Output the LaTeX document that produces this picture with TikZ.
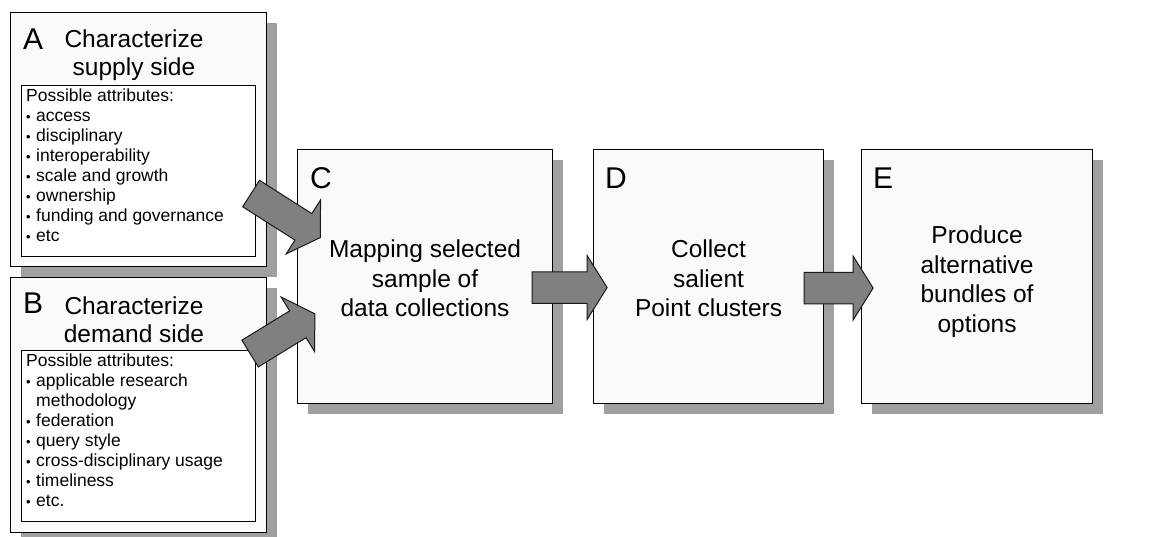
\documentclass[tikz,border=0pt]{standalone}
\usepackage{fontspec}
\setmainfont{Liberation Sans}
\usetikzlibrary{calc,shadows}

\definecolor{boxfill}{HTML}{FAFAFA}
\definecolor{shadowgray}{HTML}{A0A0A0}
\definecolor{arrowgray}{HTML}{808080}
\definecolor{edgedark}{HTML}{1A1A1A}

\tikzset{
  panel/.style={draw=black, line width=1.1pt, fill=boxfill, inner sep=0pt,
    anchor=north west,
    drop shadow={shadow xshift=10pt, shadow yshift=-10pt, fill=shadowgray, opacity=1}},
  listbox/.style={draw=black, line width=1.1pt, fill=white, inner sep=0pt, anchor=north west},
  letter/.style={font=\fontsize{30}{34}\selectfont, anchor=base west, inner sep=0pt},
  heading/.style={font=\fontsize{24.5}{29.5}\selectfont, align=center, inner sep=0pt},
  subheading/.style={font=\fontsize{24.5}{28}\selectfont, align=center, inner sep=0pt},
  listtext/.style={font=\fontsize{17.5}{20}\selectfont, align=left, anchor=north west, inner sep=0pt},
  blockarrow/.style={draw=edgedark, line width=1pt, fill=arrowgray, line join=miter},
}

% list bullet and the matching hanging indent
\newcommand\bul{\makebox[10pt][l]{\raisebox{0.5pt}{\fontsize{13}{13}\selectfont •}}}
\newcommand\hang{\hspace*{10pt}}

% block arrow: #1 middle of the tail, #2 direction (degrees), #3 length
\newcommand\blockarrowdraw[3]{%
  \draw[blockarrow, shift={#1}, rotate=#2]
    (0,-15.7) -- ({#3-20},-15.7) -- ({#3-20},-32) -- (#3,0)
    -- ({#3-20},32) -- ({#3-20},15.7) -- (0,15.7) -- cycle;}

\begin{document}
\begin{tikzpicture}[x=1pt,y=-1pt]
\useasboundingbox (0,0) rectangle (1160,536);
\fill[white] (0,0) rectangle (1160,536);

% ---- A: supply side
\node[panel, minimum width=256pt, minimum height=254pt] (A) at (10,12) {};
\node[listbox, minimum width=234pt, minimum height=171pt] (Alist) at (21,85) {};
\node[letter] (Aid) at (23,49) {A};
\node[subheading] (Ahead) at (134,55) {Characterize\\supply side};
\node[listtext] (Aattr) at (26,89) {Possible attributes:\\
  \bul access\\
  \bul disciplinary\\
  \bul interoperability\\
  \bul scale and growth\\
  \bul ownership\\
  \bul funding and governance\\
  \bul etc};

% ---- B: demand side
\node[panel, minimum width=256pt, minimum height=255pt] (B) at (10,277) {};
\node[listbox, minimum width=234pt, minimum height=171pt] (Blist) at (21,350) {};
\node[letter] (Bid) at (23,313) {B};
\node[subheading] (Bhead) at (134,320) {Characterize\\demand side};
\node[listtext] (Battr) at (26,354) {Possible attributes:\\
  \bul applicable research\\
  \hang methodology\\
  \bul federation\\
  \bul query style\\
  \bul cross-disciplinary usage\\
  \bul timeliness\\
  \bul etc.};

% ---- C, D, E
\node[panel, minimum width=255pt, minimum height=254pt] (C) at (297,149) {};
\node[panel, minimum width=230pt, minimum height=254pt] (D) at (593,149) {};
\node[panel, minimum width=231pt, minimum height=254pt] (E) at (861,149) {};

\node[letter] (Cid) at ($(C.north west)+(13,39)$) {C};
\node[letter] (Did) at ($(D.north west)+(12,39)$) {D};
\node[letter] (Eid) at ($(E.north west)+(12,39)$) {E};

\node[heading] (Ctext) at ($(C.center)+(0,2)$) {Mapping selected\\sample of\\data collections};
\node[heading] (Dtext) at ($(D.center)+(0,2)$) {Collect\\salient\\Point clusters};
\node[heading] (Etext) at ($(E.center)+(0,5)$) {Produce\\alternative\\bundles of\\options};

% ---- flow arrows
\blockarrowdraw{($(A.east)+(-16,54)$)}{-32.5}{82}
\blockarrowdraw{($(B.east)+(-17,-51.5)$)}{31.5}{76}
\blockarrowdraw{($(C.east)+(-21,11)$)}{0}{75}
\blockarrowdraw{($(D.east)+(-20,11.5)$)}{0}{69}
\end{tikzpicture}
\end{document}
